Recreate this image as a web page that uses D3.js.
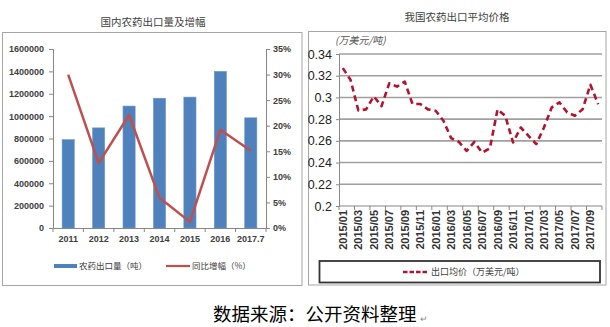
<!DOCTYPE html>
<html>
<head>
<meta charset="utf-8">
<script src="https://cdn.jsdelivr.net/npm/d3@7"></script>
<style>
  html, body { margin: 0; padding: 0; background: #fff; }
  svg { display: block; }
</style>
</head>
<body>
<svg id="chart" width="610" height="327"></svg>
<script>
// ---------- data ----------
const years = ["2011", "2012", "2013", "2014", "2015", "2016", "2017.7"];
const exportVolume = [790000, 895000, 1090000, 1160000, 1170000, 1400000, 985000];
const growthRate = [30.0, 12.7, 22.1, 5.9, 1.2, 19.2, 15.1];
const volumeTicks = [0, 200000, 400000, 600000, 800000, 1000000, 1200000, 1400000, 1600000];
const rateTicks = [0, 5, 10, 15, 20, 25, 30, 35];

const months = [
  "2015/01","2015/02","2015/03","2015/04","2015/05","2015/06","2015/07","2015/08","2015/09","2015/10","2015/11","2015/12",
  "2016/01","2016/02","2016/03","2016/04","2016/05","2016/06","2016/07","2016/08","2016/09","2016/10","2016/11","2016/12",
  "2017/01","2017/02","2017/03","2017/04","2017/05","2017/06","2017/07","2017/08","2017/09","2017/10"
];
const avgPrice = [
  0.327, 0.316, 0.288, 0.289, 0.301, 0.292, 0.313, 0.310, 0.3145, 0.294, 0.294, 0.289,
  0.2877, 0.2785, 0.2625, 0.259, 0.2508, 0.259, 0.2492, 0.253, 0.289, 0.283, 0.2585, 0.2723,
  0.2646, 0.257, 0.2723, 0.2908, 0.2954, 0.2862, 0.2831, 0.2892, 0.3117, 0.2938
];
const monthLabels = ["2015/01","2015/03","2015/05","2015/07","2015/09","2015/11","2016/01","2016/03","2016/05",
  "2016/07","2016/09","2016/11","2017/01","2017/03","2017/05","2017/07","2017/09"];
const priceTicks = [0.2, 0.22, 0.24, 0.26, 0.28, 0.3, 0.32, 0.34];

// ---------- setup ----------
const svg = d3.select("#chart");
const cjk = "'Noto Sans CJK SC', 'Noto Sans', sans-serif";
const latin = "'Liberation Sans', Arial, sans-serif";
const narrow = "'Liberation Sans Narrow', 'Arial Narrow', 'Liberation Sans', Arial, sans-serif";

// outer boxes
svg.append("rect").attr("x", 2.5).attr("y", 32.5).attr("width", 299.5).attr("height", 253)
  .attr("fill", "#fff").attr("stroke", "#a6a6a6").attr("stroke-width", 1);
svg.append("rect").attr("x", 308.5).attr("y", 31.5).attr("width", 297.5).attr("height", 253.5)
  .attr("fill", "#fff").attr("stroke", "#a6a6a6").attr("stroke-width", 1);

// ================= LEFT CHART =================
svg.append("text").attr("x", 153).attr("y", 23).attr("text-anchor", "middle")
  .attr("dominant-baseline", "middle")
  .style("font-family", cjk).style("font-size", "10.5px").attr("fill", "#404040")
  .text("国内农药出口量及增幅");

const L = { x0: 53, x1: 266, y0: 49, y1: 228 };
const xL = d3.scaleBand().domain(years).range([L.x0, L.x1]);
const yL = d3.scaleLinear().domain([0, 1600000]).range([L.y1, L.y0]);
const yR = d3.scaleLinear().domain([0, 35]).range([L.y1, L.y0]);

const gL = svg.append("g");

// bars
const barW = xL.bandwidth() * 0.4;
gL.selectAll("rect.bar").data(years).join("rect")
  .attr("class", "bar")
  .attr("x", (d) => xL(d) + (xL.bandwidth() - barW) / 2)
  .attr("width", barW)
  .attr("y", (d, i) => yL(exportVolume[i]))
  .attr("height", (d, i) => yL(0) - yL(exportVolume[i]))
  .attr("fill", "#4f81bd")
  .attr("stroke", "#6f98cc").attr("stroke-width", 0.6);

// left axis
const axL = gL.append("g").attr("transform", `translate(${L.x0},0)`)
  .call(d3.axisLeft(yL).tickValues(volumeTicks).tickSize(4).tickPadding(5).tickFormat(d3.format("d")));
// right axis
const axR = gL.append("g").attr("transform", `translate(${L.x1},0)`)
  .call(d3.axisRight(yR).tickValues(rateTicks).tickSize(4).tickPadding(3).tickFormat((d) => d + "%"));
// bottom axis
const axB = gL.append("g").attr("transform", `translate(0,${L.y1})`)
  .call(d3.axisBottom(xL).tickSize(0).tickPadding(8));
[axL, axR, axB].forEach((a) => {
  a.selectAll("path.domain").attr("stroke", "#868686");
  a.selectAll(".tick line").attr("stroke", "#868686");
  a.selectAll("text").style("font-family", latin).style("font-size", "9px").attr("fill", "#333");
});
axB.selectAll("text").style("font-weight", "bold").attr("fill", "#404040");
axL.selectAll("text").style("font-weight", "bold").attr("fill", "#404040");
axR.selectAll("text").style("font-weight", "bold").attr("fill", "#404040");
// category boundary ticks
gL.selectAll("line.ctick").data(d3.range(years.length + 1)).join("line")
  .attr("class", "ctick")
  .attr("x1", (i) => L.x0 + i * xL.step()).attr("x2", (i) => L.x0 + i * xL.step())
  .attr("y1", L.y1).attr("y2", L.y1 + 4)
  .attr("stroke", "#868686");

// growth line
const lineL = d3.line()
  .x((d, i) => xL(years[i]) + xL.bandwidth() / 2)
  .y((d) => yR(d));
gL.append("path").datum(growthRate)
  .attr("d", lineL).attr("fill", "none")
  .attr("stroke", "#c0504d").attr("stroke-width", 2.5).attr("stroke-linejoin", "round");

// legend
gL.append("rect").attr("x", 54).attr("y", 264).attr("width", 23).attr("height", 4).attr("fill", "#4f81bd");
gL.append("text").attr("x", 79).attr("y", 266.5).attr("dominant-baseline", "middle")
  .style("font-family", cjk).style("font-size", "8.5px").attr("fill", "#404040")
  .text("农药出口量（吨）");
gL.append("line").attr("x1", 166).attr("x2", 190).attr("y1", 266).attr("y2", 266)
  .attr("stroke", "#c0504d").attr("stroke-width", 2.2);
gL.append("text").attr("x", 192).attr("y", 266.5).attr("dominant-baseline", "middle")
  .style("font-family", cjk).style("font-size", "8.5px").attr("fill", "#404040")
  .text("同比增幅（%）");

// ================= RIGHT CHART =================
svg.append("text").attr("x", 457).attr("y", 18.5).attr("text-anchor", "middle")
  .attr("dominant-baseline", "middle")
  .style("font-family", cjk).style("font-size", "10.5px").attr("fill", "#404040")
  .text("我国农药出口平均价格");

const R = { x0: 339, x1: 602, y0: 54, y1: 206 };
const x2 = d3.scaleBand().domain(months).range([R.x0, R.x1]);
const y2 = d3.scaleLinear().domain([0.2, 0.34]).range([R.y1, R.y0]);
const gR = svg.append("g");

// gridlines
gR.selectAll("line.grid").data(priceTicks.filter((d) => d > 0.2)).join("line")
  .attr("class", "grid")
  .attr("x1", R.x0).attr("x2", R.x1)
  .attr("y1", (d) => y2(d)).attr("y2", (d) => y2(d))
  .attr("stroke", "#a0a0a0").attr("stroke-width", 1.6);

// y axis
const ay2 = gR.append("g").attr("transform", `translate(${R.x0},0)`)
  .call(d3.axisLeft(y2).tickValues(priceTicks).tickSize(3).tickPadding(4).tickFormat((d) => String(+d.toFixed(2))));
ay2.selectAll("path.domain").attr("stroke", "#888");
ay2.selectAll(".tick line").attr("stroke", "#888");
ay2.selectAll("text").style("font-family", narrow).style("font-size", "12.5px").attr("fill", "#222");

// x axis line
gR.append("line").attr("x1", R.x0).attr("x2", R.x1).attr("y1", R.y1).attr("y2", R.y1)
  .attr("stroke", "#888").attr("stroke-width", 1.2);
// ticks every 2 months
gR.selectAll("line.xt").data(d3.range(0, months.length + 1, 2)).join("line")
  .attr("class", "xt")
  .attr("x1", (i) => R.x0 + i * x2.step()).attr("x2", (i) => R.x0 + i * x2.step())
  .attr("y1", R.y1).attr("y2", R.y1 + 4)
  .attr("stroke", "#888");
// rotated labels
gR.selectAll("text.xl").data(monthLabels).join("text")
  .attr("class", "xl")
  .attr("transform", (d) => `translate(${x2(d) + x2.bandwidth() / 2 + 4},${R.y1 + 4}) rotate(-90)`)
  .attr("text-anchor", "end")
  .style("font-family", latin).style("font-size", "11px").style("font-weight", "bold").attr("fill", "#333")
  .text((d) => d);

// unit label
gR.append("text").attr("x", 335).attr("y", 41).attr("dominant-baseline", "middle")
  .style("font-family", cjk).style("font-size", "10px").style("font-style", "italic").attr("fill", "#555")
  .text("(万美元/吨)");

// price line
const line2 = d3.line()
  .x((d, i) => x2(months[i]) + x2.bandwidth() / 2)
  .y((d) => y2(d));
gR.append("path").datum(avgPrice)
  .attr("d", line2).attr("fill", "none")
  .attr("stroke", "#b4122e").attr("stroke-width", 2.6)
  .attr("stroke-dasharray", "6,4").attr("stroke-linejoin", "round");

// legend box
gR.append("rect").attr("x", 319.5).attr("y", 261).attr("width", 280.5).attr("height", 21.5)
  .attr("fill", "#fff").attr("stroke", "#333").attr("stroke-width", 1.8);
gR.append("line").attr("x1", 403).attr("x2", 429).attr("y1", 272).attr("y2", 272)
  .attr("stroke", "#b4122e").attr("stroke-width", 2.6).attr("stroke-dasharray", "4.5,2");
gR.append("text").attr("x", 431).attr("y", 272.5).attr("dominant-baseline", "middle")
  .style("font-family", cjk).style("font-size", "9px").attr("fill", "#404040")
  .text("出口均价（万美元/吨）");

// ================= CAPTION =================
svg.append("text").attr("x", 213).attr("y", 316).attr("dominant-baseline", "middle")
  .style("font-family", cjk).style("font-size", "18.5px").attr("fill", "#000")
  .text("数据来源：公开资料整理");
svg.append("text").attr("x", 420).attr("y", 320).attr("dominant-baseline", "middle")
  .style("font-family", latin).style("font-size", "9px").attr("fill", "#888")
  .text("↵");
</script>
</body>
</html>
